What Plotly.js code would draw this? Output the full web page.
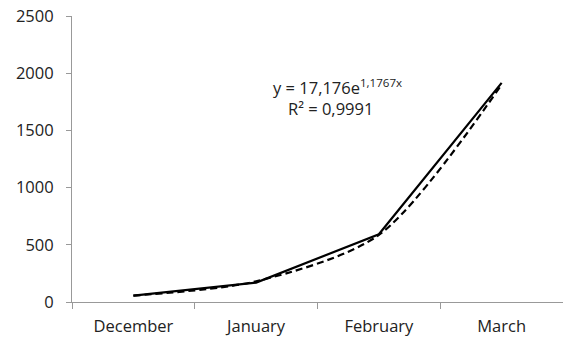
<!DOCTYPE html>
<html>
<head>
<meta charset="utf-8">
<script src="https://cdn.plot.ly/plotly-3.0.1.min.js"></script>
<style>html,body{margin:0;padding:0;background:#fff;}#chart{width:563px;height:340px;}</style>
</head>
<body>
<div id="chart"></div>
<script>
const months = ["December", "January", "February", "March"];
const actual = [55, 170, 592, 1915];
const trend = [56, 181, 586, 1901];
const yTicks = [0, 500, 1000, 1500, 2000, 2500];
const eqText = "y = 17,176e<sup>1,1767x</sup>";
const r2Text = "R² = 0,9991";

const font = "'Open Sans', sans-serif";

Plotly.newPlot("chart", [
  {x: months, y: trend, type: "scatter", mode: "lines",
   line: {color: "#000", width: 2.2, dash: "7px,4px", shape: "spline", smoothing: 0.8}},
  {x: months, y: actual, type: "scatter", mode: "lines",
   line: {color: "#000", width: 2.2}}
], {
  width: 563, height: 340,
  margin: {l: 72, r: 0, t: 16, b: 38},
  paper_bgcolor: "#fff", plot_bgcolor: "#fff",
  showlegend: false,
  font: {family: font, size: 16.5, color: "#222"},
  xaxis: {type: "category", showgrid: false, zeroline: false, showline: true,
    linecolor: "#999", linewidth: 1, ticks: "outside", tickson: "boundaries",
    ticklen: 6, tickcolor: "#999", range: [-0.5, 3.5], fixedrange: true,
    ticklabelstandoff: 9},
  yaxis: {range: [0, 2500], tickvals: yTicks, showgrid: false, zeroline: false,
    showline: true, linecolor: "#999", linewidth: 1, ticks: "outside",
    ticklen: 5, tickcolor: "#999", ticklabelstandoff: 9},
  annotations: [
    {xref: "paper", yref: "paper", x: 0.541, y: 0.752, xanchor: "center", yanchor: "middle",
     text: eqText, showarrow: false, align: "center",
     font: {family: font, size: 16.5, color: "#222"}},
    {xref: "paper", yref: "paper", x: 0.527, y: 0.675, xanchor: "center", yanchor: "middle",
     text: r2Text, showarrow: false, align: "center",
     font: {family: font, size: 16.5, color: "#222"}}
  ]
}, {displayModeBar: false, staticPlot: true});
</script>
</body>
</html>
